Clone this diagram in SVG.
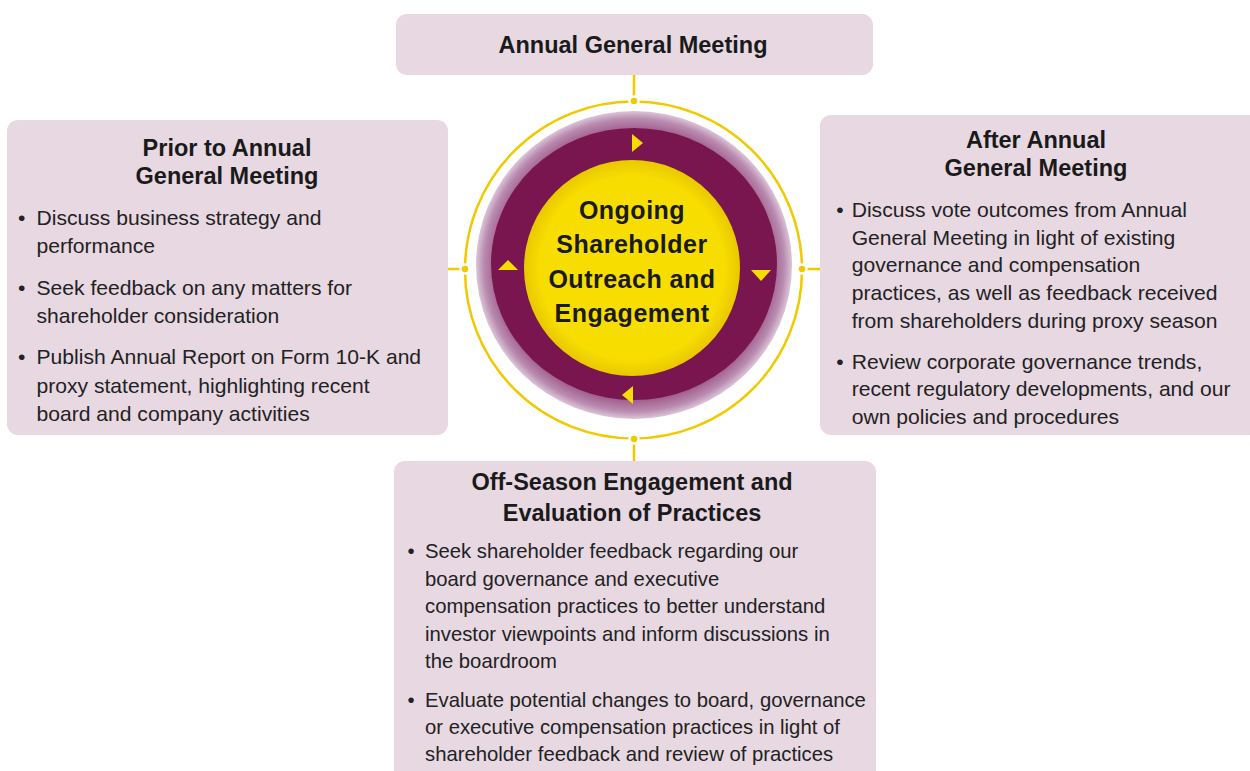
<svg xmlns="http://www.w3.org/2000/svg" width="1250" height="771" viewBox="0 0 1250 771">
<style>
.box{fill:#e7d8e2;}
.t{font-family:"Liberation Sans",Arial,sans-serif;font-weight:bold;font-size:23.5px;fill:#1a1a1a;text-anchor:middle;}
.b{font-family:"Liberation Sans",Arial,sans-serif;font-size:21.1px;fill:#222;}
.bb{font-family:"Liberation Sans",Arial,sans-serif;font-size:20.3px;fill:#222;}
.c{font-family:"Liberation Sans",Arial,sans-serif;font-weight:bold;font-size:25px;letter-spacing:0.5px;fill:#1a1a1a;text-anchor:middle;}
.ln{stroke:#f2c900;stroke-width:2.5;fill:none;}
.dot{fill:#f2c900;stroke:#ffffff;stroke-width:2.5;}
.tri{fill:#f6dc00;}
</style>
<defs>
<radialGradient id="band" cx="0.5" cy="0.5" r="0.5">
<stop offset="0.88" stop-color="#a2608f"/>
<stop offset="0.95" stop-color="#b98bb0"/>
<stop offset="1" stop-color="#dcc5d8"/>
</radialGradient>
<radialGradient id="yel" cx="0.5" cy="0.5" r="0.5">
<stop offset="0.85" stop-color="#f7de00"/>
<stop offset="1" stop-color="#e9c800"/>
</radialGradient>
</defs>
<rect width="1250" height="771" fill="#ffffff"/>

<g id="connectors">
<line class="ln" x1="634" y1="75" x2="634" y2="101"/>
<line class="ln" x1="634" y1="439" x2="634" y2="462"/>
<line class="ln" x1="448" y1="269" x2="465" y2="269"/>
<line class="ln" x1="802" y1="269" x2="820" y2="269"/>
</g>

<g id="hub">
<circle cx="633.5" cy="270" r="168.5" class="ln"/>
<circle class="dot" cx="634" cy="101" r="4.5"/>
<circle class="dot" cx="634" cy="439" r="4.5"/>
<circle class="dot" cx="465" cy="269" r="4.5"/>
<circle class="dot" cx="802" cy="269" r="4.5"/>
<ellipse cx="634" cy="265" rx="158" ry="154" fill="url(#band)"/>
<ellipse cx="634" cy="264" rx="143" ry="136" fill="#79164f"/>
<circle cx="632" cy="268" r="108" fill="url(#yel)"/>
<polygon class="tri" points="632,134 643,143 632,152"/>
<polygon class="tri" points="751,270 771,270 761,281"/>
<polygon class="tri" points="633,386 622,395 633,404"/>
<polygon class="tri" points="498,270 518,270 508,260"/>
<text class="c" x="632" y="219">Ongoing</text>
<text class="c" x="632" y="253">Shareholder</text>
<text class="c" x="632" y="287.5">Outreach and</text>
<text class="c" x="632" y="321.5">Engagement</text>
</g>

<g id="annual-general-meeting">
<rect class="box" x="396" y="14" width="477" height="61" rx="11"/>
<text class="t" x="633" y="53">Annual General Meeting</text>
</g>

<g id="prior">
<rect class="box" x="7" y="120" width="441" height="315" rx="11"/>
<text class="t" x="227" y="155.5">Prior to Annual</text>
<text class="t" x="227" y="184">General Meeting</text>
<text class="b" x="18" y="225">•</text>
<text class="b" x="36.5" y="225">Discuss business strategy and</text>
<text class="b" x="36.5" y="253.3">performance</text>
<text class="b" x="18" y="294.5">•</text>
<text class="b" x="36.5" y="294.5">Seek feedback on any matters for</text>
<text class="b" x="36.5" y="322.5">shareholder consideration</text>
<text class="b" x="18" y="364">•</text>
<text class="b" x="36.5" y="364">Publish Annual Report on Form 10-K and</text>
<text class="b" x="36.5" y="392.5">proxy statement, highlighting recent</text>
<text class="b" x="36.5" y="420.8">board and company activities</text>
</g>

<g id="after">
<rect class="box" x="820" y="115" width="440" height="320" rx="11"/>
<text class="t" x="1036" y="147.5">After Annual</text>
<text class="t" x="1036" y="175.7">General Meeting</text>
<text class="b" x="836.3" y="216.5">•</text>
<text class="b" x="851.7" y="216.5">Discuss vote outcomes from Annual</text>
<text class="b" x="851.7" y="244.5">General Meeting in light of existing</text>
<text class="b" x="851.7" y="272">governance and compensation</text>
<text class="b" x="851.7" y="300.3">practices, as well as feedback received</text>
<text class="b" x="851.7" y="328">from shareholders during proxy season</text>
<text class="b" x="836.3" y="368.5">•</text>
<text class="b" x="851.7" y="368.5">Review corporate governance trends,</text>
<text class="b" x="851.7" y="396.3">recent regulatory developments, and our</text>
<text class="b" x="851.7" y="423.8">own policies and procedures</text>
</g>

<g id="off-season">
<rect class="box" x="394" y="461" width="482" height="330" rx="11"/>
<text class="t" x="632" y="490">Off-Season Engagement and</text>
<text class="t" x="632" y="521">Evaluation of Practices</text>
<text class="bb" x="407.5" y="558.3">•</text>
<text class="bb" x="425" y="558.3">Seek shareholder feedback regarding our</text>
<text class="bb" x="425" y="586">board governance and executive</text>
<text class="bb" x="425" y="613.3">compensation practices to better understand</text>
<text class="bb" x="425" y="640.5">investor viewpoints and inform discussions in</text>
<text class="bb" x="425" y="668.3">the boardroom</text>
<text class="bb" x="407.5" y="706.7">•</text>
<text class="bb" x="425" y="706.7">Evaluate potential changes to board, governance</text>
<text class="bb" x="425" y="734">or executive compensation practices in light of</text>
<text class="bb" x="425" y="760.7">shareholder feedback and review of practices</text>
</g>
</svg>
